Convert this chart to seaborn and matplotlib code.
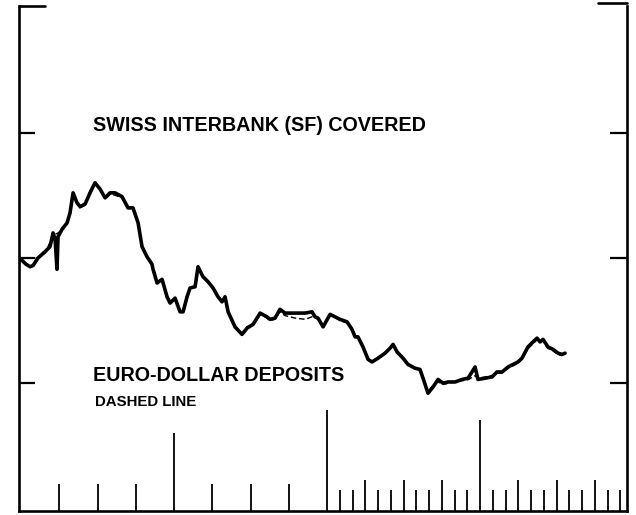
import matplotlib
matplotlib.use("Agg")
import matplotlib.pyplot as plt
import matplotlib.transforms as mtransforms
import seaborn as sns

# x: months from the start of the first year, y: rate (percent, axis unlabelled)
swiss_month = [
    -0.16, 0.08, 0.39, 0.71, 0.94, 1.33, 1.88, 2.27, 2.51, 2.67,
    2.82, 2.90, 3.22, 3.61, 3.84, 4.08, 4.39, 4.63, 5.02, 5.41,
    5.80, 6.20, 6.59, 6.98, 7.37, 7.92, 8.39, 8.78, 9.18, 9.49,
    9.88, 10.27, 10.35, 10.67, 11.06, 11.45, 11.69, 12.08, 12.47, 12.71,
    13.02, 13.25, 13.65, 13.88, 14.27, 14.67, 15.06, 15.45, 15.76, 16.00,
    16.24, 16.78, 17.33, 17.73, 18.20, 18.75, 19.29, 19.53, 19.92, 20.31,
    20.71, 21.49, 22.27, 22.82, 23.06, 23.29, 23.69, 24.24, 24.63, 25.02,
    25.57, 25.96, 26.20, 26.43, 26.82, 27.22, 27.53, 28.00, 28.55, 28.94,
    29.18, 29.49, 29.96, 30.35, 30.90, 31.29, 31.53, 31.92, 32.31, 32.71,
    33.10, 33.49, 34.04, 34.59, 35.06, 35.61, 35.84, 36.39, 36.94, 37.33,
    37.73, 38.20, 38.59, 38.98, 39.29, 39.76, 40.16, 40.47, 40.71, 40.94,
    41.33, 41.73, 42.12, 42.43, 42.67,
]
swiss_rate = [
    1.99, 1.98, 1.95, 1.93, 1.94, 2.00, 2.05, 2.09, 2.20, 2.15,
    1.91, 2.17, 2.23, 2.28, 2.36, 2.52, 2.44, 2.41, 2.43, 2.52,
    2.60, 2.55, 2.48, 2.52, 2.52, 2.49, 2.40, 2.40, 2.28, 2.09,
    2.01, 1.95, 1.91, 1.80, 1.83, 1.69, 1.64, 1.68, 1.57, 1.57,
    1.69, 1.76, 1.77, 1.93, 1.85, 1.81, 1.76, 1.69, 1.65, 1.69,
    1.57, 1.45, 1.39, 1.44, 1.47, 1.56, 1.53, 1.51, 1.52, 1.59,
    1.56, 1.56, 1.56, 1.57, 1.53, 1.52, 1.45, 1.55, 1.53, 1.51,
    1.49, 1.43, 1.37, 1.37, 1.29, 1.19, 1.17, 1.20, 1.24, 1.28,
    1.31, 1.25, 1.20, 1.15, 1.12, 1.11, 1.04, 0.92, 0.97, 1.03,
    1.00, 1.01, 1.01, 1.03, 1.04, 1.13, 1.03, 1.04, 1.05, 1.09,
    1.09, 1.13, 1.15, 1.17, 1.20, 1.29, 1.33, 1.36, 1.33, 1.35,
    1.29, 1.27, 1.24, 1.23, 1.24,
]

euro_month = [
    -0.16, 0.40, 1.30, 1.90, 2.50, 2.90, 3.20, 3.60, 3.80, 4.10,
    4.40, 4.60, 5.00, 5.40, 5.80, 6.20, 6.60, 7.00, 7.40, 7.90,
    8.40, 8.80, 9.20, 9.50, 9.90, 10.30, 10.70, 11.10, 11.50, 11.70,
    12.10, 12.50, 12.70, 13.00, 13.30, 13.70, 13.90, 14.30, 14.70, 15.10,
    15.50, 15.80, 16.00, 16.20, 16.80, 17.30, 17.70, 18.20, 18.80, 19.30,
    19.50, 19.90, 20.30, 20.70, 21.50, 22.30, 22.80, 23.10, 23.30, 23.70,
    24.20, 24.60, 25.00, 25.60, 26.00, 26.20, 26.40, 26.80, 27.20, 27.50,
    28.00, 28.60, 28.90, 29.20, 29.50, 30.00, 30.40, 30.90, 31.30, 31.50,
    31.90, 32.30, 32.70, 33.10, 33.50, 34.00, 34.60, 35.10, 35.60, 35.80,
    36.40, 36.90, 37.30, 37.70, 38.20, 38.60, 39.00, 39.30, 39.80, 40.20,
    40.50, 40.70, 40.90, 41.30, 41.70, 42.10, 42.40, 42.70,
]
euro_rate = [
    1.99, 2.00, 2.00, 2.04, 2.18, 2.20, 2.22, 2.28, 2.36, 2.50,
    2.44, 2.40, 2.42, 2.53, 2.59, 2.55, 2.47, 2.51, 2.50, 2.48,
    2.40, 2.39, 2.28, 2.09, 2.00, 1.95, 1.80, 1.82, 1.69, 1.65,
    1.68, 1.57, 1.58, 1.69, 1.76, 1.77, 1.92, 1.85, 1.80, 1.76,
    1.69, 1.65, 1.68, 1.58, 1.46, 1.39, 1.45, 1.47, 1.55, 1.52,
    1.50, 1.51, 1.57, 1.54, 1.52, 1.51, 1.53, 1.52, 1.51, 1.45,
    1.55, 1.53, 1.50, 1.48, 1.42, 1.38, 1.36, 1.29, 1.19, 1.17,
    1.20, 1.24, 1.28, 1.30, 1.25, 1.20, 1.15, 1.12, 1.10, 1.05,
    0.93, 0.98, 1.01, 0.99, 1.00, 1.01, 1.02, 1.03, 1.06, 1.04,
    1.05, 1.06, 1.08, 1.08, 1.12, 1.14, 1.16, 1.20, 1.28, 1.32,
    1.35, 1.33, 1.34, 1.28, 1.26, 1.23, 1.22, 1.24,
]

quarter_ticks = [3, 6, 9, 15, 18, 21]
year_ticks = [12, 24, 36]
year_tick_len = [0.155, 0.2, 0.18]
month_ticks = [25, 26, 28, 29, 31, 32, 34, 35, 37, 38, 40, 41, 43, 44, 46, 47]
month_quarter_ticks = [27, 30, 33, 39, 42, 45]
rate_ticks = [1, 2, 3]

sns.set_style("white")
plt.rcParams["font.family"] = ["Liberation Sans", "DejaVu Sans"]
plt.rcParams["text.color"] = "black"

fig = plt.figure(figsize=(6.36, 5.15), dpi=100)
ax = fig.add_axes([0.0299, 0.0078, 0.956, 0.9806])

sns.lineplot(x=euro_month, y=euro_rate, ax=ax, color="black", linewidth=1.0,
             linestyle=(0, (4, 2)), estimator=None, sort=False)
sns.lineplot(x=swiss_month, y=swiss_rate, ax=ax, color="black", linewidth=2.6,
             estimator=None, sort=False, solid_joinstyle="round")

ax.set_xlim(-0.16, 47.53)
ax.set_ylim(-0.02, 4.012)
ax.set_xticks([])
ax.set_yticks([])
ax.set_xlabel("")
ax.set_ylabel("")

for side in ["left", "right", "bottom"]:
    ax.spines[side].set_visible(True)
    ax.spines[side].set_color("black")
    ax.spines[side].set_linewidth(1.9)
ax.spines["top"].set_visible(False)

# partial top border (corner brackets)
ax.plot([0, 0.043], [1, 1], transform=ax.transAxes, color="black", lw=1.9, clip_on=False)
ax.plot([0.953, 1], [1.005, 1.005], transform=ax.transAxes, color="black", lw=1.9, clip_on=False)

# inward time ticks along the bottom
tx = mtransforms.blended_transform_factory(ax.transData, ax.transAxes)
ax.vlines(quarter_ticks, 0, 0.054, transform=tx, color="black", lw=1.3)
ax.vlines(month_ticks, 0, 0.041, transform=tx, color="black", lw=1.3)
ax.vlines(month_quarter_ticks, 0, 0.061, transform=tx, color="black", lw=1.3)
for xt, ln in zip(year_ticks, year_tick_len):
    ax.vlines(xt, 0, ln, transform=tx, color="black", lw=1.3)

# inward rate ticks on both sides
ty = mtransforms.blended_transform_factory(ax.transAxes, ax.transData)
ax.hlines(rate_ticks, 0, 0.027, transform=ty, color="black", lw=1.6)
ax.hlines(rate_ticks, 0.972, 1, transform=ty, color="black", lw=1.6)

fig.text(0.146, 0.757, "SWISS INTERBANK (SF) COVERED", fontsize=14.2,
         fontweight="bold", color="black", ha="left", va="center")
fig.text(0.146, 0.270, "EURO-DOLLAR DEPOSITS", fontsize=14.2,
         fontweight="bold", color="black", ha="left", va="center")
fig.text(0.149, 0.219, "DASHED LINE", fontsize=10.8,
         fontweight="bold", color="black", ha="left", va="center")

fig.savefig("out.png", dpi=100)
